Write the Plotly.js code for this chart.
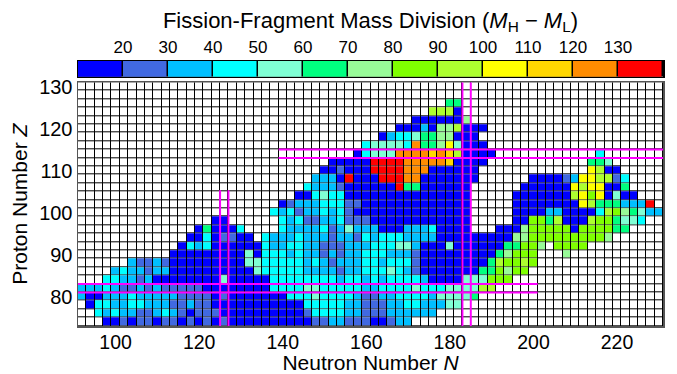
<!DOCTYPE html>
<html>
<head>
<meta charset="utf-8">
<script src="https://cdn.plot.ly/plotly-3.0.1.min.js"></script>
<style>html,body{margin:0;padding:0;background:#fff}#chart{width:677px;height:374px}</style>
</head>
<body>
<div id="chart"></div>
<script>
// Neutron numbers (cell centres) and proton numbers (cell centres)
const neutronN = [92,94,96,98,100,102,104,106,108,110,112,114,116,118,120,122,124,126,128,130,
  132,134,136,138,140,142,144,146,148,150,152,154,156,158,160,162,164,166,168,170,
  172,174,176,178,180,182,184,186,188,190,192,194,196,198,200,202,204,206,208,210,
  212,214,216,218,220,222,224,226,228,230];
const protonZ = [74,76,78,80,82,84,86,88,90,92,94,96,98,100,102,104,106,108,110,112,114,116,118,120,122,124,126,128,130];

// Mass-division bins (M_H - M_L): code 0..c -> bin 10-20 ... 130-140
const binEdges = [10,20,30,40,50,60,70,80,90,100,110,120,130,140];
const binColors = ['#0000FF','#4169E1','#00BFFF','#00FFFF','#7FFFD4','#00FF7F','#98FB98',
  '#7FFF00','#ADFF2F','#FFFF00','#FFD700','#FF8C00','#FF0000'];
const codeChars = '0123456789abc';

// For each Z row: first N of the coded run, then bin codes ('.' = no value)
const rowZ = [74,76,78,80,82,84,86,88,90,92,94,96,98,100,102,104,106,108,110,112,114,116,118,120,122,124,126];
const rowFirstN = [98,96,94,92,92,98,100,104,114,116,118,120,124,138,140,144,146,148,150,152,158,160,164,168,172,176,180];
const rowCodes = [
  '001011011010101' + '0000000000' + '112211100122',
  '3232211232101110' + '000000000' + '1333322111222222',
  '03322332221121100' + '000000000' + '3333322111223322244',
  '200222322222111101' + '0000000' + '333433332112233332444' + '45',
  '222321121211111' + '00000000' + '33334433333223333433344' + '4488',
  '332212' + '00000000' + '4' + '00000' + '3333333323323233332' + '0000' + '444777',
  '2322122' + '0000000000' + '43' + '33332222122333432100000' + '00557677',
  '21121' + '000000000' + '443' + '33332321222332333100000' + '000587787',
  '000000000' + '403' + '33232212122333222100000' + '000056777' + '...6',
  '0323' + '000000' + '3' + '22332211122233344200040' + '0000055776' + '.' + '7777',
  '00301100' + '.' + '3' + '22232221221323332222000' + '000000667777777776',
  '050003' + '....' + '3222231242220002223000' + '0' + '...' + '0006777770777755',
  '00' + '......' + '3231122311100000000000' + '0' + '.....' + '0077580008775443',
  '32312232310000000000000' + '0' + '.....' + '000022000038765422',
  '0122233311000000000000' + '0' + '.....' + '0000000098555222c',
  '00343300000000000000' + '0' + '.....' + '0000000' + '89790400',
  '32221000000c5500000' + '0' + '......' + '000000' + '9899005',
  '2220c000cccbb00000' + '00' + '......' + '000012998813',
  '001000ccccbbb0000' + '00' + '.............' + '9800',
  '00000ccccbbbbba0' + '000' + '............' + '554',
  '03444bbbbaba8' + '0000' + '............' + '3',
  '344443b55694' + '000',
  '0233455660' + '00',
  '00020668' + '000',
  '000000' + '6',
  '8880',
  '55'
];

// Magic-number guide lines
const magicZ = [82, 114];
const magicN = [126, 184];

// ---- build matrices ----
const binMid = binEdges.slice(0, -1).map((e, i) => (e + binEdges[i + 1]) / 2);
const z = protonZ.map(() => neutronN.map(() => null));
const blank = protonZ.map(() => neutronN.map(() => 0));
rowZ.forEach((Z, r) => {
  const zi = protonZ.indexOf(Z);
  const n0 = neutronN.indexOf(rowFirstN[r]);
  const s = rowCodes[r];
  for (let i = 0; i < s.length; i++) {
    const k = codeChars.indexOf(s[i]);
    if (k >= 0) z[zi][n0 + i] = binMid[k];
  }
});
const cs = [];
binColors.forEach((c, i) => {
  cs.push([i / binColors.length, c]);
  cs.push([(i + 1) / binColors.length, c]);
});

const font = 'Liberation Sans, Arial, Helvetica, sans-serif';
const gap = 1;
const traces = [
  {type: 'heatmap', x: neutronN, y: protonZ, z: blank, colorscale: [[0, '#fff'], [1, '#fff']],
   showscale: false, xgap: gap, ygap: gap, hoverinfo: 'skip'},
  {type: 'heatmap', x: neutronN, y: protonZ, z: z, colorscale: cs, zmin: 10, zmax: 140,
   showscale: false, xgap: gap, ygap: gap},
  {type: 'heatmap', x: binMid, y: [0.5], z: [binMid], colorscale: cs, zmin: 10, zmax: 140,
   showscale: false, xgap: 1.5, xaxis: 'x2', yaxis: 'y2', hoverinfo: 'skip'}
];

const shapes = [];
const mag = {color: '#FF00FF', width: 2};
[magicZ[0] - 1, magicZ[0] + 1].forEach(v => shapes.push({type: 'line', xref: 'x', yref: 'y', x0: 91, x1: 201, y0: v, y1: v, line: mag}));
[magicZ[1] - 1, magicZ[1] + 1].forEach(v => shapes.push({type: 'line', xref: 'x', yref: 'y', x0: 139, x1: 231, y0: v, y1: v, line: mag}));
[magicN[0] - 1, magicN[0] + 1].forEach(v => shapes.push({type: 'line', xref: 'x', yref: 'y', x0: v, x1: v, y0: 73, y1: 105.3, line: mag}));
[magicN[1] - 1, magicN[1] + 1].forEach(v => shapes.push({type: 'line', xref: 'x', yref: 'y', x0: v, x1: v, y0: 73, y1: 131, line: mag}));

const layout = {
  width: 677, height: 374,
  margin: {l: 78, r: 14, t: 61, b: 48, pad: 0},
  paper_bgcolor: '#fff', plot_bgcolor: '#000',
  font: {family: font, color: '#000', size: 20},
  showlegend: false,
  title: {text: 'Fission-Fragment Mass Division (<i>M</i><sub>H</sub> − <i>M</i><sub>L</sub>)',
    font: {family: font, size: 22, color: '#000'}, x: 0.5, xref: 'paper', xanchor: 'center',
    y: 1 - 20 / 374, yref: 'container', yanchor: 'middle'},
  xaxis: {range: [91, 231], tickvals: [100, 120, 140, 160, 180, 200, 220], ticks: '',
    showgrid: false, zeroline: false, showline: true, mirror: true, linecolor: '#555', linewidth: 1.5,
    tickfont: {size: 19.5}, ticklabelstandoff: -2,
    title: {text: 'Neutron Number <i>N</i>', font: {size: 21}, standoff: 4},
    domain: [0, 1], anchor: 'y'},
  yaxis: {range: [73, 131], tickvals: [80, 90, 100, 110, 120, 130], ticks: '',
    showgrid: false, zeroline: false, showline: true, mirror: true, linecolor: '#555', linewidth: 1.5,
    tickfont: {size: 20}, title: {text: 'Proton Number <i>Z</i>', font: {size: 21}, standoff: 6},
    domain: [0, 0.9196], anchor: 'x'},
  xaxis2: {range: [10, 140], tickvals: [20, 30, 40, 50, 60, 70, 80, 90, 100, 110, 120, 130], side: 'top',
    ticks: '', showgrid: false, zeroline: false, showline: true, mirror: true, linecolor: '#000', linewidth: 1.5,
    tickfont: {size: 17}, anchor: 'y2', domain: [0, 1]},
  yaxis2: {range: [0, 1], showticklabels: false, ticks: '', showgrid: false, zeroline: false,
    showline: true, mirror: true, linecolor: '#000', linewidth: 1.5, domain: [0.9408, 1], anchor: 'x2'},
  shapes: shapes
};
Plotly.newPlot('chart', traces, layout, {staticPlot: true, displayModeBar: false});
</script>
</body>
</html>
